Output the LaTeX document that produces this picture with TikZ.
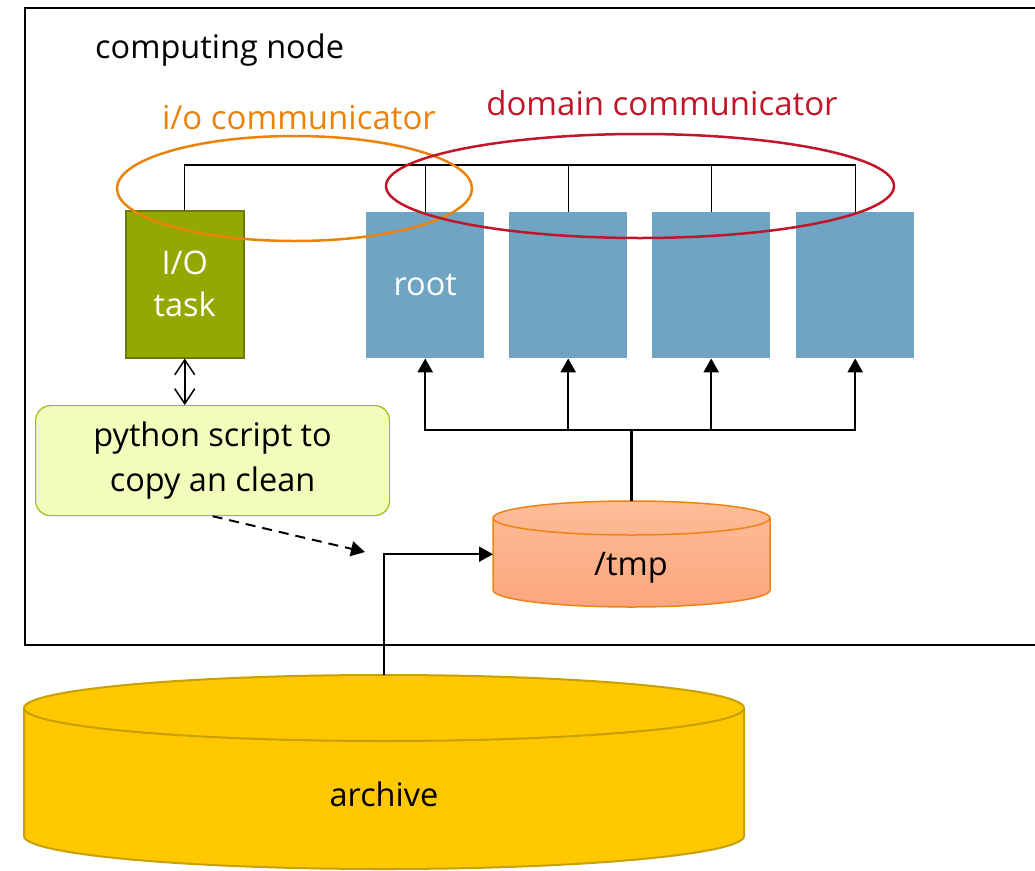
\documentclass[tikz,border=0pt]{standalone}
\usepackage{fontspec}
\setmainfont{Open Sans}
\usetikzlibrary{arrows.meta,shapes.geometric}
\definecolor{taskolive}{RGB}{147,168,0}
\definecolor{taskedge}{RGB}{107,122,0}
\definecolor{workerblue}{RGB}{112,164,195}
\definecolor{scriptfill}{RGB}{243,253,187}
\definecolor{scriptedge}{RGB}{166,185,20}
\definecolor{tmptop}{RGB}{253,189,152}
\definecolor{tmpbot}{RGB}{252,166,126}
\definecolor{tmpedge}{RGB}{240,130,20}
\definecolor{archfill}{RGB}{255,200,0}
\definecolor{archedge}{RGB}{200,160,0}
\definecolor{ioorange}{RGB}{235,130,10}
\definecolor{domred}{RGB}{192,22,42}
\begin{document}
\begin{tikzpicture}[x=1pt,y=-1pt,
  txt/.style={font=\fontsize{32.5}{42}\selectfont, inner sep=0pt, align=center},
  worker/.style={txt, fill=workerblue, text=white, minimum width=118pt,
    minimum height=146pt, anchor=north west},
  ring/.style={ellipse, line width=2.5pt, inner sep=0pt},
  bus/.style={line width=1.2pt},
  tree/.style={line width=2.5pt},
  tip/.style={-{Triangle[length=14pt,width=15pt]}},
]
\useasboundingbox (0,0) rectangle (1035,870);
\clip (0,0) rectangle (1035,870);

% computing node frame
\node[draw, line width=2pt, minimum width=1040pt, minimum height=637pt,
  inner sep=0pt, anchor=north west] (cnode) at (24,7) {};
\node[txt, anchor=west] (cnodelabel) at (95,50) {computing node};

% tasks
\node[txt, fill=taskolive, draw=taskedge, line width=1.5pt, text=white,
  minimum width=118pt, minimum height=147pt, anchor=north west] (io) at (125,210) {I/O\\task};
\node[worker] (w1) at (366,212) {root};
\node[worker] (w2) at (509,212) {};
\node[worker] (w3) at (652,212) {};
\node[worker] (w4) at (796,212) {};

% communicator bus
\coordinate (bus) at (0,165);
\draw[bus] (io.north) -- (io.north |- bus) -- (w4.north |- bus) -- (w4.north);
\foreach \w in {w1,w2,w3} \draw[bus] (\w.north |- bus) -- (\w.north);

% communicators
\node[ring, draw=ioorange, minimum width=355pt, minimum height=105pt] (ioring) at (294.5,188.5) {};
\node[ring, draw=domred, minimum width=508pt, minimum height=104pt] (domring) at (640,186) {};
\node[txt, text=ioorange, font=\fontsize{33}{40}\selectfont] (iolabel) at (299,118) {i/o communicator};
\node[txt, text=domred, font=\fontsize{33}{40}\selectfont] (domlabel) at (662,103) {domain communicator};

% python script
\node[txt, fill=scriptfill, draw=scriptedge, line width=1.2pt, rounded corners=15pt,
  font=\fontsize{32.5}{45}\selectfont,
  minimum width=354pt, minimum height=110pt, anchor=north west] (script) at (35,405)
  {python script to\\copy an clean};
\draw[line width=1.5pt, {Straight Barb[length=15pt,width=20pt]}-{Straight Barb[length=15pt,width=20pt]}]
  (io.south) -- (io.south |- script.north);

% /tmp cylinder
\node[inner sep=0pt, minimum width=277pt, minimum height=106pt, anchor=north west] (tmp) at (493,501) {};
\path[top color=tmptop, bottom color=tmpbot, draw=tmpedge, line width=1.5pt]
  (493,518) -- (493,590) arc[start angle=180, end angle=360, x radius=138.5pt, y radius=17pt]
  -- (770,518) arc[start angle=0, end angle=180, x radius=138.5pt, y radius=17pt] -- cycle;
\draw[tmpedge, line width=1.5pt] (493,518) arc[start angle=180, end angle=360, x radius=138.5pt, y radius=17pt];
\node[txt] (tmplabel) at (631,568) {/tmp};

% archive cylinder
\node[inner sep=0pt, minimum width=720pt, minimum height=194pt, anchor=north west] (archive) at (24,675) {};
\path[fill=archfill, draw=archedge, line width=2pt]
  (24,708) -- (24,836) arc[start angle=180, end angle=360, x radius=360pt, y radius=33pt]
  -- (744,708) arc[start angle=0, end angle=180, x radius=360pt, y radius=33pt] -- cycle;
\draw[archedge, line width=2pt] (24,708) arc[start angle=180, end angle=360, x radius=360pt, y radius=33pt];
\node[txt] (archlabel) at (384,794) {archive};

% data flow
\coordinate (fork) at (0,430);
\foreach \w in {w1,w2,w3,w4}
  \draw[tree, tip] (tmp.north) -- (tmp.north |- fork) -| (\w.south);
\draw[line width=2pt, tip] (archive.north) |- (tmp.west);
\coordinate (dashend) at (365,552);
\draw[line width=2pt, dash pattern=on 10pt off 7pt, tip] (script.south) -- (dashend);
\end{tikzpicture}
\end{document}
